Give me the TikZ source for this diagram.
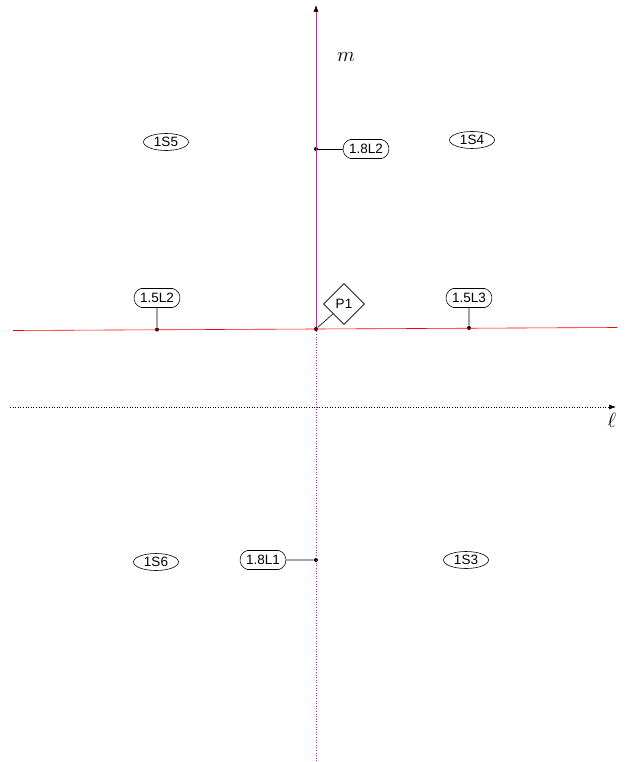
\documentclass[tikz,border=0pt]{standalone}
\usepackage{fontspec}
\setmainfont{Liberation Sans}
\usetikzlibrary{shapes.geometric,shapes.misc,arrows.meta}
\definecolor{mline}{RGB}{175,50,145}
\tikzset{
  region/.style={ellipse,draw,minimum width=45pt,minimum height=17pt,inner sep=0pt},
  linebox/.style={rounded rectangle,draw,minimum width=46pt,minimum height=19pt,
    inner xsep=0pt,inner ysep=1pt,rounded rectangle arc length=150},
  pointbox/.style={diamond,draw,minimum size=41pt,inner sep=0pt},
  dot/.style={circle,fill,inner sep=0pt,minimum size=4pt},
  axislabel/.style={font=\fontsize{20}{24}\selectfont}
}
\begin{document}
\begin{tikzpicture}[x=1pt,y=-1pt,font=\fontsize{13.5}{16}\selectfont,line width=0.6pt]

\useasboundingbox (0,0) rectangle (625,762);

% Points on the lines
\node[dot] (O) at (316,329) {};
\node[dot] (dm) at (316,149) {};
\node[dot] (dl) at (157,329.5) {};
\node[dot] (dr) at (469,328) {};
\node[dot] (dd) at (316,560) {};

% Line m
\coordinate (mtop) at (316,5);
\coordinate (mbot) at (316,762);
\draw[mline,-{Latex[black,length=7pt,width=5pt]}] (O) -- (mtop);
\draw[mline,dotted] (O) -- (mbot);
\node[axislabel] (m) at (346,57) {$m$};

% Red line
\coordinate (rl) at (13,330.5);
\coordinate (rr) at (617,327.5);
\draw[red] (rl) -- (rr);

% Line l
\coordinate (ll) at (10,407);
\coordinate (lr) at (616,407);
\draw[dotted,-{Latex[length=7pt,width=5pt]}] (ll) -- (lr);
\node[axislabel] (l) at (612,420) {$\ell$};

% Regions
\node[region] (S5) at (166,142) {1S5};
\node[region] (S4) at (472,140) {1S4};
\node[region] (S6) at (156,562) {1S6};
\node[region] (S3) at (466,560) {1S3};

% Line labels
\node[linebox] (L82) at (366,149) {1.8L2};
\node[linebox] (L52) at (157,298) {1.5L2};
\node[linebox] (L53) at (469,298) {1.5L3};
\node[linebox] (L81) at (263,560) {1.8L1};

% Point
\node[pointbox] (P1) at (344,304) {P1};

% Connectors
\draw (dm) -- (L82);
\draw (dl) -- (L52);
\draw (dr) -- (L53);
\draw (dd) -- (L81);
\draw (O) -- (P1);

\end{tikzpicture}
\end{document}
